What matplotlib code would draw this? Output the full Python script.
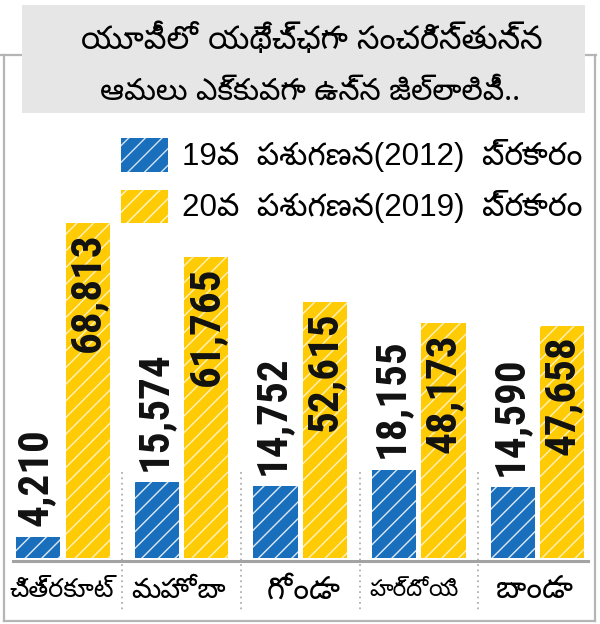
import matplotlib
matplotlib.use('Agg')
import matplotlib.pyplot as plt
from matplotlib import font_manager
from matplotlib.ft2font import FT2Font
from matplotlib.patches import Rectangle
from matplotlib.lines import Line2D

# ---------------- data ----------------
districts = ['చిత్రకూట్', 'మహోబా', 'గోండా', 'హర్దోయి', 'బాండా']
census_2012 = [4210, 15574, 14752, 18155, 14590]
census_2019 = [68813, 61765, 52615, 48173, 47658]
series_names = ['19వ  పశుగణన(2012)  ప్రకారం', '20వ  పశుగణన(2019)  ప్రకారం']
title_lines = ['యూపీలో యథేచ్ఛగా సంచరిస్తున్న', 'ఆవులు ఎక్కువగా ఉన్న జిల్లాలివీ..']

BLUE = '#1a6fbc'
YELLOW = '#ffcb05'


def font_with(ch):
    names = []
    for f in font_manager.fontManager.ttflist:
        try:
            if ord(ch) in FT2Font(f.fname).get_charmap():
                names.append(f.name)
        except Exception:
            pass
    names.sort(key=lambda n: (0 if 'Telugu' in n else 1, 0 if 'Sans' in n else 1))
    return names[0] if names else None


tel = font_with('మ')
TEL_FAM = ([tel] if tel else []) + ['DejaVu Sans']
MIX_FAM = ['Liberation Sans'] + TEL_FAM
NUM_FAM = ['Liberation Sans Narrow', 'Roboto Condensed', 'Roboto', 'Liberation Sans', 'DejaVu Sans']

plt.rcParams['hatch.linewidth'] = 1.0

W, H = 600, 624
fig = plt.figure(figsize=(W / 100, H / 100), dpi=100)
renderer = fig.canvas.get_renderer()


def fx(px):
    return px / W


def fy(py):
    return 1 - py / H


def fit(t, target_w, max_size):
    bb = t.get_window_extent(renderer)
    if bb.width > 0:
        t.set_fontsize(min(t.get_fontsize() * target_w / bb.width, max_size))


# outer frame
for (x0, y0, x1, y1) in [(0, 55, 24, 55), (583, 55, 596, 55), (3.5, 55, 3.5, 621),
                         (595, 55, 595, 621), (3.5, 621, 595, 621)]:
    fig.add_artist(Line2D([fx(x0), fx(x1)], [fy(y0), fy(y1)], color='#b5b5b5', lw=1.6,
                          transform=fig.transFigure, zorder=1))

# title box
fig.add_artist(Rectangle((fx(22), fy(113)), fx(585) - fx(22), fy(5) - fy(113),
                         transform=fig.transFigure, facecolor='#e6e6e6', edgecolor='none', zorder=2))
t1 = fig.text(fx(312), fy(40), title_lines[0], family=TEL_FAM, fontsize=24, fontweight='semibold',
              ha='center', va='center', zorder=3)
t2 = fig.text(fx(310), fy(91), title_lines[1], family=TEL_FAM, fontsize=24, fontweight='semibold',
              ha='center', va='center', zorder=3)
fit(t1, 462, 26)
fit(t2, 420, 26)

# axes
base_py, top_py = 558, 120
px_per_unit = 0.00487
left_px, right_px = 13, 590
c0, step = 63, 118.6
ax = fig.add_axes([fx(left_px), fy(base_py), fx(right_px) - fx(left_px), (base_py - top_py) / H])
ax.set_xlim((left_px - c0) / step, (right_px - c0) / step)
ax.set_ylim(0, (base_py - top_py) / px_per_unit)
ax.axis('off')

xs = list(range(len(districts)))
bw = 0.372
off = 0.208
ax.bar([x - off for x in xs], census_2012, width=bw, color=BLUE, edgecolor=(1, 1, 1, 0.85),
       linewidth=0, hatch='//')
ax.bar([x + off for x in xs], census_2019, width=bw, color=YELLOW, edgecolor=(1, 1, 1, 0.75),
       linewidth=0, hatch='//')

for x, v in zip(xs, census_2012):
    ax.annotate(f'{v:,}', (x - off, v), xytext=(-2, 8), textcoords='offset points',
                rotation=90, ha='center', va='bottom', family=NUM_FAM, fontweight='black',
                fontsize=31, color='#111111')
for x, v in zip(xs, census_2019):
    ax.annotate(f'{v:,}', (x + off, v), xytext=(0, -7), textcoords='offset points',
                rotation=90, ha='center', va='top', family=NUM_FAM, fontweight='black',
                fontsize=31, color='#111111')

# baseline
fig.add_artist(Line2D([fx(13), fx(588)], [fy(560.5), fy(560.5)], color='#a3a3a3', lw=2.2,
                      transform=fig.transFigure, zorder=5))

# dotted separators and category labels
for i in range(len(districts) - 1):
    xp = c0 + (i + 0.5) * step
    fig.add_artist(Line2D([fx(xp), fx(xp)], [fy(472), fy(612)], color='#b0b0b0', lw=1.3,
                          linestyle=(0, (1, 2)), transform=fig.transFigure, zorder=0))
label_widths = [105, 95, 74, 90, 78]
label_centers = [62, 178, 304, 414, 535]
for i, name in enumerate(districts):
    t = fig.text(fx(label_centers[i]), fy(590), name, family=TEL_FAM, fontsize=22,
                 ha='center', va='center')
    fit(t, label_widths[i], 24)

# legend
for py0, py1, col, label in [(138, 172, BLUE, series_names[0]), (190, 223, YELLOW, series_names[1])]:
    fig.add_artist(Rectangle((fx(121), fy(py1)), fx(168) - fx(121), fy(py0) - fy(py1),
                             transform=fig.transFigure, facecolor=col,
                             edgecolor=(1, 1, 1, 0.8), linewidth=0, hatch='//'))
    t = fig.text(fx(182), fy((py0 + py1) / 2), label, family=MIX_FAM, fontsize=23,
                 ha='left', va='center')
    fit(t, 400, 24)

fig.savefig('out.png', dpi=100)
